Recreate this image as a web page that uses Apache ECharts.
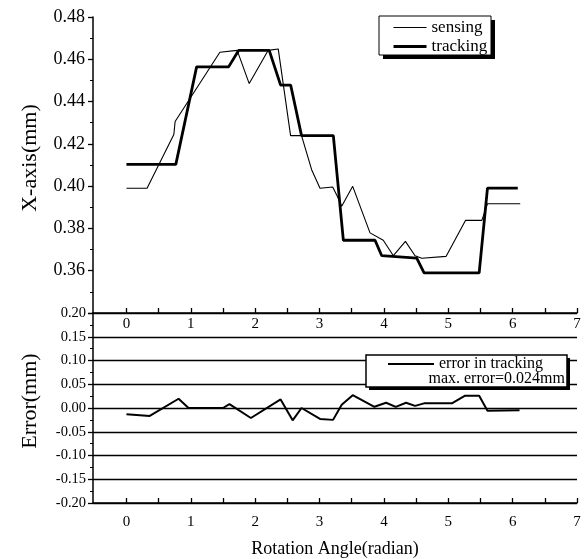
<!DOCTYPE html>
<html>
<head>
<meta charset="utf-8">
<script src="https://cdn.jsdelivr.net/npm/echarts@6/dist/echarts.min.js"></script>
<style>
  html, body { margin: 0; padding: 0; background: #fff; }
  #main { width: 586px; height: 559px; }
</style>
</head>
<body>
<div id="main"></div>
<script>
'use strict';

// values
var sensingAngle = [0, 0.32, 0.736, 0.756, 1.451, 1.72, 1.907, 2.2, 2.358, 2.55, 2.72, 2.877, 3.007, 3.204, 3.276, 3.344, 3.515, 3.784, 3.99, 4.147, 4.334, 4.484, 4.588, 4.967, 5.267, 5.522, 5.609, 6.118];
var sensingValue = [0.399, 0.399, 0.4244, 0.4306, 0.4633, 0.4642, 0.4485, 0.4642, 0.4649, 0.4239, 0.4239, 0.4078, 0.399, 0.3996, 0.3952, 0.3905, 0.3999, 0.3779, 0.3744, 0.3671, 0.3739, 0.3671, 0.3659, 0.3668, 0.3838, 0.3838, 0.3917, 0.3917];

var trackingAngle = [0, 0.767, 1.09, 1.587, 1.742, 2.218, 2.395, 2.551, 2.72, 3.214, 3.37, 3.862, 3.966, 4.51, 4.624, 5.48, 5.609, 6.08];
var trackingValue = [0.4103, 0.4103, 0.4564, 0.4564, 0.4642, 0.4642, 0.4478, 0.4478, 0.4239, 0.4239, 0.3744, 0.3744, 0.3671, 0.366, 0.359, 0.359, 0.3991, 0.3991];

var errorAngle = [0, 0.362, 0.81, 0.964, 1.14, 1.5, 1.6, 1.933, 2.395, 2.582, 2.72, 3.007, 3.21, 3.344, 3.515, 3.852, 4.034, 4.184, 4.344, 4.484, 4.624, 5.055, 5.262, 5.48, 5.609, 6.107];
var errorValue = [-0.0133, -0.0168, 0.0195, 0, 0, 0, 0.008, -0.021, 0.018, -0.026, 0, -0.023, -0.025, 0.0066, 0.027, 0.0025, 0.011, 0.0025, 0.011, 0.0045, 0.0098, 0.0098, 0.026, 0.026, -0.006, -0.0045];

var xTicks = [0, 0.5, 1, 1.5, 2, 2.5, 3, 3.5, 4, 4.5, 5, 5.5, 6, 6.5, 7];
var xLabels = [0, 1, 2, 3, 4, 5, 6, 7];

function pairs(xs, ys) {
  return xs.map(function (x, i) { return [x, ys[i]]; });
}

var font = '"Liberation Serif", "DejaVu Serif", serif';
var black = '#000';

function xAxisFor(grid, margin) {
  return {
    type: 'value', gridIndex: grid, min: -0.52, max: 7,
    axisLine: { onZero: false, lineStyle: { color: black, width: 1.5 } },
    axisTick: { inside: true, length: 5, customValues: xTicks, lineStyle: { color: black, width: 1.3 } },
    axisLabel: { customValues: xLabels, color: black, fontFamily: font, fontSize: 15, margin: margin },
    splitLine: { show: false }
  };
}

function yAxisFor(grid, name) {
  return {
    type: 'value', gridIndex: grid,
    name: name, nameLocation: 'middle', nameGap: 52,
    nameTextStyle: { color: black, fontFamily: font, fontSize: 22, padding: [0, 0, 0, 14] },
    axisLine: { show: true, onZero: false, lineStyle: { color: black, width: 1.5 } },
    axisTick: { length: 5, lineStyle: { color: black, width: 1.3 } },
    minorTick: { show: true, splitNumber: 2, length: 3, lineStyle: { color: black } }
  };
}

var myChart = echarts.init(document.getElementById('main'));
var option = {
  animation: false,
  backgroundColor: '#fff',
  textStyle: { fontFamily: font },
  grid: [
    { left: 93, right: 9, top: 17, height: 296 },
    { left: 93, right: 9, top: 313, height: 195 }
  ],
  xAxis: [
    xAxisFor(0, 4),
    Object.assign(xAxisFor(1, 12), {
      name: 'Rotation Angle(radian)', nameLocation: 'middle', nameGap: 37,
      nameTextStyle: { color: black, fontFamily: font, fontSize: 18 }
    })
  ],
  yAxis: [
    Object.assign(yAxisFor(0, 'X-axis(mm)'), {
      min: 0.34, max: 0.48, interval: 0.02,
      axisLabel: {
        color: black, fontFamily: font, fontSize: 18, margin: 8,
        formatter: function (v) { return Math.abs(v - 0.34) < 1e-6 ? '' : v.toFixed(2); }
      },
      splitLine: { show: false }
    }),
    Object.assign(yAxisFor(1, 'Error(mm)'), {
      min: -0.2, max: 0.2, interval: 0.05,
      axisLabel: {
        color: black, fontFamily: font, fontSize: 14.5, margin: 7,
        formatter: function (v) { return v.toFixed(2); }
      },
      splitLine: { show: true, lineStyle: { color: black, width: 1.3 } }
    })
  ],
  legend: [
    {
      data: [
        { name: 'sensing', lineStyle: { width: 1.1 } },
        { name: 'tracking', lineStyle: { width: 3 } }
      ],
      orient: 'vertical', left: 392, top: 19,
      itemWidth: 33, itemHeight: 14, itemGap: 2, padding: 0,
      itemStyle: { opacity: 0 },
      textStyle: { color: black, fontFamily: font, fontSize: 17 }
    },
    {
      data: [{ name: 'error in tracking', lineStyle: { width: 2 } }],
      left: 387, top: 356,
      itemWidth: 46, itemHeight: 14, padding: 0,
      itemStyle: { opacity: 0 },
      textStyle: { color: black, fontFamily: font, fontSize: 16 }
    }
  ],
  graphic: [
    { type: 'rect', z: 3, shape: { x: 383, y: 20, width: 112, height: 39 }, style: { fill: black } },
    { type: 'rect', z: 3, shape: { x: 379, y: 16, width: 112, height: 39 }, style: { fill: '#fff', stroke: black, lineWidth: 1 } },
    { type: 'rect', z: 3, shape: { x: 369, y: 358, width: 201, height: 32 }, style: { fill: black } },
    { type: 'rect', z: 3, shape: { x: 366, y: 355, width: 201, height: 32 }, style: { fill: '#fff', stroke: black, lineWidth: 1.5 } },
    {
      type: 'text', z: 5, x: 565, y: 379,
      style: { text: 'max. error=0.024mm', fill: black, font: '16px ' + font, textAlign: 'right', textVerticalAlign: 'middle' }
    }
  ],
  series: [
    {
      name: 'sensing', type: 'line', xAxisIndex: 0, yAxisIndex: 0, symbol: 'none',
      lineStyle: { color: black, width: 1.1 }, itemStyle: { color: black },
      data: pairs(sensingAngle, sensingValue)
    },
    {
      name: 'tracking', type: 'line', xAxisIndex: 0, yAxisIndex: 0, symbol: 'none',
      lineStyle: { color: black, width: 2.8 }, itemStyle: { color: black },
      data: pairs(trackingAngle, trackingValue)
    },
    {
      name: 'error in tracking', type: 'line', xAxisIndex: 1, yAxisIndex: 1, symbol: 'none',
      lineStyle: { color: black, width: 2 }, itemStyle: { color: black },
      data: pairs(errorAngle, errorValue)
    }
  ]
};
myChart.setOption(option);
</script>
</body>
</html>
